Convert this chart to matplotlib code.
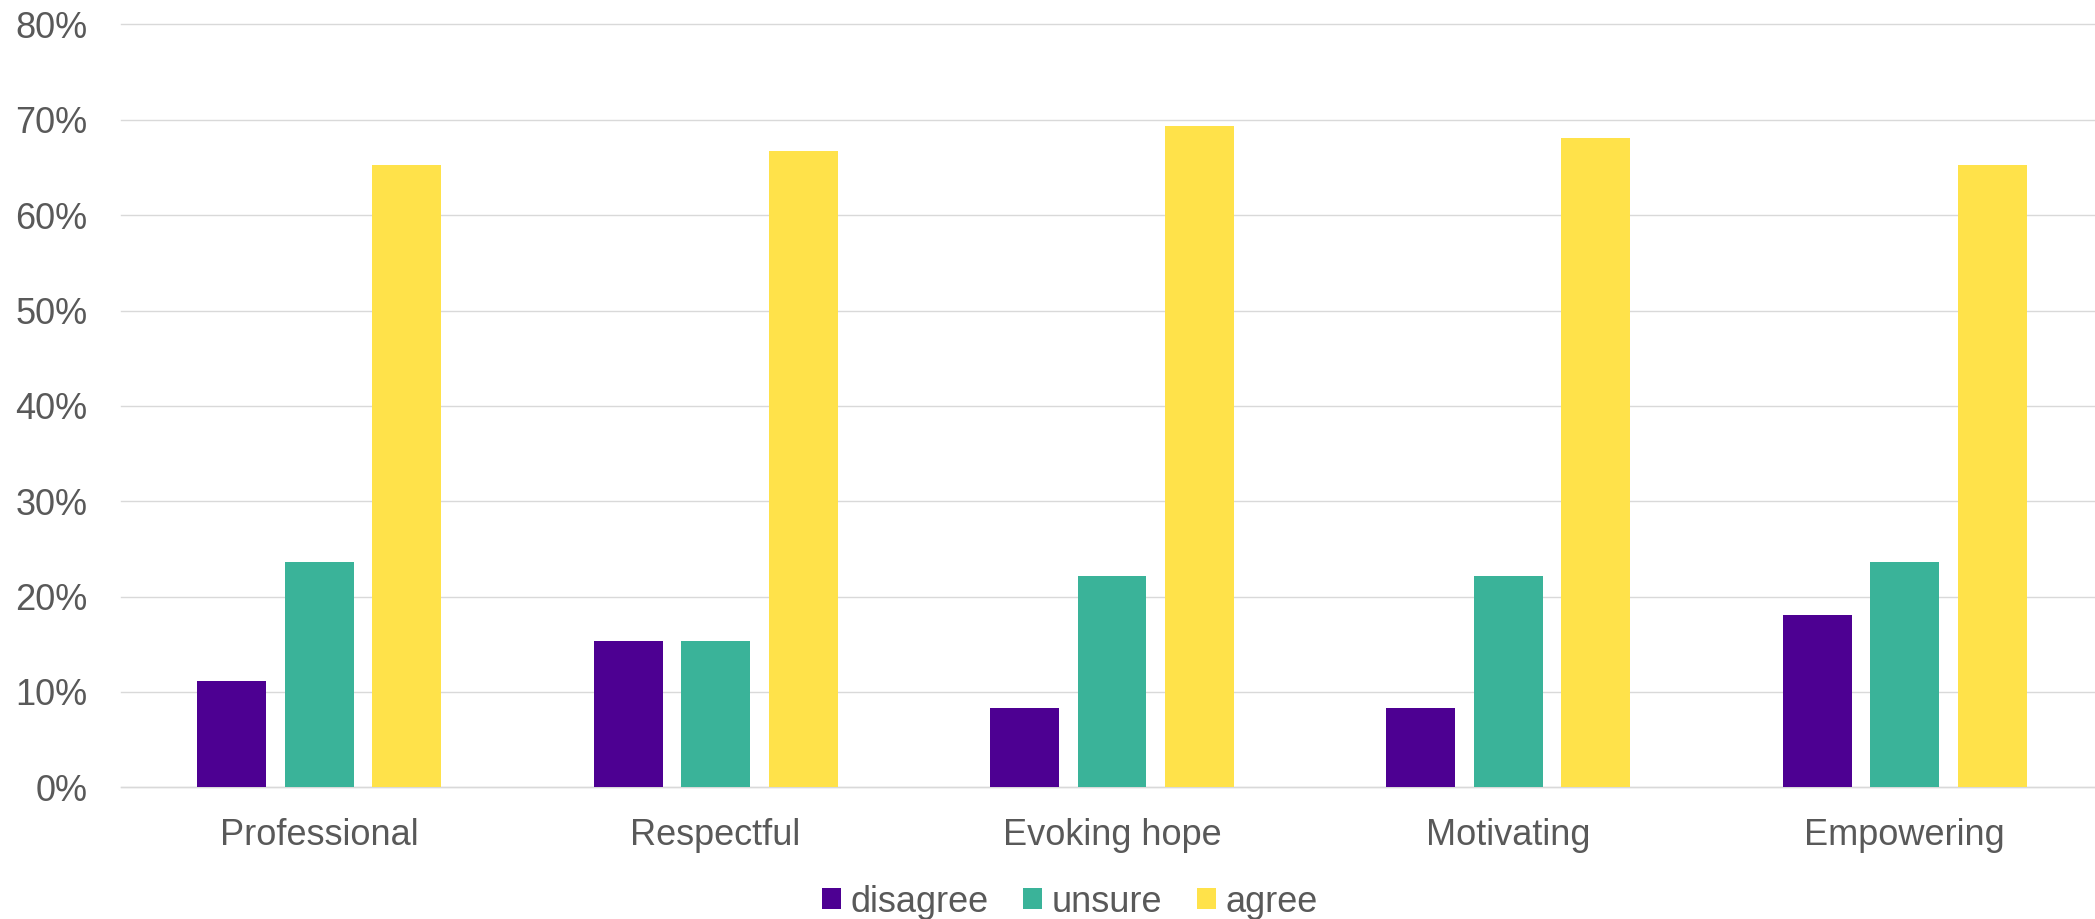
import numpy as np
import matplotlib
matplotlib.use("Agg")
import matplotlib.pyplot as plt
from matplotlib.ticker import PercentFormatter

# survey answers, share of respondents
categories = ["Professional", "Respectful", "Evoking hope", "Motivating", "Empowering"]
series_names = ["disagree", "unsure", "agree"]
disagree = [0.111, 0.153, 0.083, 0.083, 0.181]
unsure = [0.236, 0.153, 0.222, 0.222, 0.236]
agree = [0.653, 0.667, 0.694, 0.681, 0.653]
y_ticks = [0, 0.1, 0.2, 0.3, 0.4, 0.5, 0.6, 0.7, 0.8]

colors = ["#4d0092", "#3ab399", "#ffe24a"]
text_color = "#595959"
grid_color = "#d9d9d9"

plt.rcParams["font.family"] = ["Liberation Sans", "DejaVu Sans"]

fig = plt.figure(figsize=(20.95, 9.19), dpi=100)
# plot area runs a little past the right edge, like the original crop
ax = fig.add_axes([121 / 2095, 131.7 / 919, 1982 / 2095, 762.8 / 919])

x = np.arange(len(categories))
step = 0.2207
width = 0.174
for i, (name, vals) in enumerate(zip(series_names, [disagree, unsure, agree])):
    ax.bar(x + (i - 1) * step, vals, width, color=colors[i], label=name, zorder=3)

ax.set_xlim(-0.5, len(categories) - 0.5)
ax.set_ylim(0, 0.8)
ax.set_yticks(y_ticks)
ax.yaxis.set_major_formatter(PercentFormatter(1.0, decimals=0))
ax.set_xticks(x)
ax.set_xticklabels(categories)

ax.grid(axis="y", color=grid_color, linewidth=1.0, zorder=0)
# keep the 80% line visible at the top edge
for line in ax.get_ygridlines():
    line.set_clip_on(False)
for side in ["top", "right", "left"]:
    ax.spines[side].set_visible(False)
ax.spines["bottom"].set_color(grid_color)
ax.spines["bottom"].set_linewidth(1.0)
ax.tick_params(axis="both", length=0, labelsize=26, labelcolor=text_color)
ax.tick_params(axis="x", pad=22)
ax.tick_params(axis="y", pad=24)

leg = fig.legend(loc="center", bbox_to_anchor=(1070 / 2095, 1 - 902 / 919),
                 ncol=3, frameon=False, fontsize=26, handlelength=0.52,
                 handleheight=0.52, handletextpad=0.27, columnspacing=0.96,
                 borderpad=0, borderaxespad=0)
for t in leg.get_texts():
    t.set_color(text_color)

fig.savefig("out.png", dpi=100)
